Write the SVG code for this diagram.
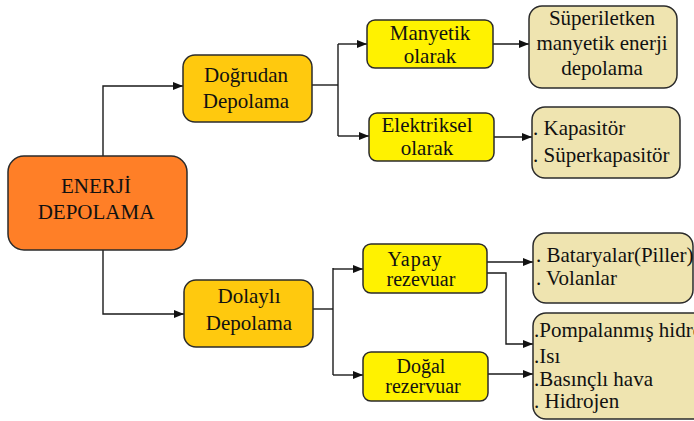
<svg xmlns="http://www.w3.org/2000/svg" width="694" height="421" viewBox="0 0 694 421">
  <style>
    .box { stroke: #2b2b2b; stroke-width: 1.5; }
    .root { fill: #FF7F27; }
    .mid { fill: #FFC90E; }
    .sub { fill: #FFF200; }
    .leaf { fill: #EFE4B0; }
    text { font-family: 'Liberation Serif', 'DejaVu Serif', serif; font-size: 21px; fill: #111; }
    .c { text-anchor: middle; }
    .s { font-size: 20px; }
    .wire { fill: none; stroke: #1a1a1a; stroke-width: 1.4; }
  </style>
  <defs>
    <marker id="arrow" viewBox="0 0 10 8" refX="10" refY="4" markerWidth="10" markerHeight="8" markerUnits="userSpaceOnUse" orient="auto">
      <path d="M0,0 L10,4 L0,8 Z" fill="#111"/>
    </marker>
  </defs>

  <!-- connectors -->
  <g id="connectors" class="wire">
    <path d="M103,156 V86 H183" marker-end="url(#arrow)"/>
    <path d="M103,250 V314 H184" marker-end="url(#arrow)"/>
    <path d="M312,85 H338"/>
    <path d="M338,44 V136"/>
    <path d="M338,44 H367" marker-end="url(#arrow)"/>
    <path d="M338,136 H369" marker-end="url(#arrow)"/>
    <path d="M493,44 H529" marker-end="url(#arrow)"/>
    <path d="M494,137 H532" marker-end="url(#arrow)"/>
    <path d="M313,309 H333"/>
    <path d="M333,268 V375"/>
    <path d="M333,269 H363" marker-end="url(#arrow)"/>
    <path d="M333,375 H363" marker-end="url(#arrow)"/>
    <path d="M487,262 H533" marker-end="url(#arrow)"/>
    <path d="M487,273 H506 V344 H533" marker-end="url(#arrow)"/>
    <path d="M488,374 H533" marker-end="url(#arrow)"/>
  </g>

  <g font-family="'Liberation Serif', 'DejaVu Serif', serif">
  <g id="enerji-depolama">
    <rect class="box root" x="8" y="156" width="179" height="94" rx="16"/>
    <text class="c" x="96" y="193">ENERJİ</text>
    <text class="c" x="96" y="219">DEPOLAMA</text>
  </g>

  <g id="dogrudan-depolama">
    <rect class="box mid" x="183" y="55" width="129" height="67" rx="12"/>
    <text class="c" x="246" y="82">Doğrudan</text>
    <text class="c" x="246" y="108">Depolama</text>
  </g>

  <g id="dolayli-depolama">
    <rect class="box mid" x="184" y="280" width="129" height="67" rx="12"/>
    <text class="c" x="249" y="303">Dolaylı</text>
    <text class="c" x="249" y="330">Depolama</text>
  </g>

  <g id="manyetik-olarak">
    <rect class="box sub" x="367" y="20" width="126" height="48" rx="8"/>
    <text class="c" x="430" y="40">Manyetik</text>
    <text class="c" x="430" y="63">olarak</text>
  </g>

  <g id="elektriksel-olarak">
    <rect class="box sub" x="369" y="113" width="125" height="48" rx="8"/>
    <text class="c" x="427" y="132">Elektriksel</text>
    <text class="c" x="427" y="155">olarak</text>
  </g>

  <g id="yapay-rezevuar">
    <rect class="box sub" x="363" y="244" width="124" height="49" rx="8"/>
    <text class="c s" x="415" y="266" letter-spacing="1">Yapay</text>
    <text class="c s" x="421" y="286">rezevuar</text>
  </g>

  <g id="dogal-rezervuar">
    <rect class="box sub" x="363" y="352" width="125" height="49" rx="8"/>
    <text class="c s" x="421" y="373">Doğal</text>
    <text class="c s" x="423" y="393">rezervuar</text>
  </g>

  <g id="superiletken">
    <rect class="box leaf" x="529" y="6" width="148" height="82" rx="13"/>
    <text class="c" x="602" y="25">Süperiletken</text>
    <text class="c" x="602" y="50">manyetik enerji</text>
    <text class="c" x="602" y="75">depolama</text>
  </g>

  <g id="kapasitor">
    <rect class="box leaf" x="532" y="107" width="148" height="71" rx="13"/>
    <text x="533" y="135">. Kapasitör</text>
    <text x="533" y="162">. Süperkapasitör</text>
  </g>

  <g id="bataryalar">
    <rect class="box leaf" x="533" y="233" width="160" height="70" rx="13"/>
    <text x="536" y="262">. Bataryalar(Piller)</text>
    <text x="536" y="285">. Volanlar</text>
  </g>

  <g id="pompalanmis">
    <rect class="box leaf" x="533" y="313" width="180" height="106" rx="13"/>
    <text x="534" y="337">.Pompalanmış hidro</text>
    <text x="534" y="363">.Isı</text>
    <text x="534" y="386">.Basınçlı hava</text>
    <text x="534" y="408">. Hidrojen</text>
  </g>
  </g>
</svg>
